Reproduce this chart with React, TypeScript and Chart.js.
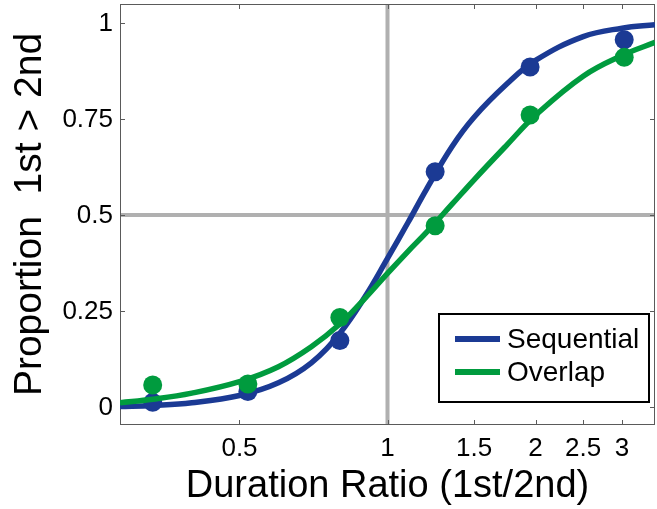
import React, { useEffect, useRef } from "react";
import { Chart, registerables } from "chart.js";

Chart.register(...registerables);

// Observed data points
const ratioPoints = [0.333, 0.52, 0.8, 1.25, 1.95, 3.03];
const sequentialPoints = [0.012, 0.04, 0.173, 0.613, 0.886, 0.957];
const overlapPoints = [0.057, 0.06, 0.233, 0.472, 0.761, 0.911];

// Fitted curves
const curveRatios = [0.2857, 0.333, 0.4, 0.5, 0.6, 0.7, 0.8, 0.9, 1, 1.1, 1.2, 1.35, 1.5, 1.75, 2, 2.5, 3, 3.5];
const sequentialCurve = [0.001, 0.004, 0.011, 0.03, 0.063, 0.115, 0.192, 0.287, 0.387, 0.48, 0.567, 0.677, 0.755, 0.842, 0.903, 0.965, 0.987, 0.996];
const overlapCurve = [0.011, 0.02, 0.036, 0.066, 0.105, 0.157, 0.216, 0.283, 0.348, 0.405, 0.455, 0.527, 0.592, 0.683, 0.76, 0.862, 0.916, 0.95];

const seriesNames = ["Sequential", "Overlap"];
const xTickValues = [0.5, 1, 1.5, 2, 2.5, 3];
const xTickLabels = ["0.5", "1", "1.5", "2", "2.5", "3"];
const yTickValues = [0, 0.25, 0.5, 0.75, 1];
const yTickLabels = ["0", "0.25", "0.5", "0.75", "1"];
const refX = 1;
const refY = 0.5;

const BLUE = "#1b3a94";
const GREEN = "#009b3e";
const FONT = "'Liberation Sans', Arial, Helvetica, sans-serif";

const framePlugin = {
  id: "frame",
  beforeDatasetsDraw(chart: any) {
    const { ctx, chartArea: a, scales } = chart;
    const xs = scales.x;
    const ys = scales.y;
    ctx.save();
    // reference lines
    ctx.strokeStyle = "#b0b0b0";
    ctx.lineWidth = 4;
    const px = xs.getPixelForValue(refX);
    const py = ys.getPixelForValue(refY);
    ctx.beginPath();
    ctx.moveTo(px, a.top);
    ctx.lineTo(px, a.bottom);
    ctx.moveTo(a.left, py);
    ctx.lineTo(a.right, py);
    ctx.stroke();
    // box
    ctx.strokeStyle = "#5a5a5a";
    ctx.lineWidth = 1;
    ctx.strokeRect(a.left + 0.5, a.top + 0.5, a.right - a.left - 1, a.bottom - a.top - 1);
    // inward ticks
    const tl = 5;
    ctx.beginPath();
    xTickValues.forEach((v) => {
      const x = Math.round(xs.getPixelForValue(v)) + 0.5;
      ctx.moveTo(x, a.bottom);
      ctx.lineTo(x, a.bottom - tl);
      ctx.moveTo(x, a.top);
      ctx.lineTo(x, a.top + tl);
    });
    yTickValues.forEach((v) => {
      const y = Math.round(ys.getPixelForValue(v)) + 0.5;
      ctx.moveTo(a.left, y);
      ctx.lineTo(a.left + tl, y);
      ctx.moveTo(a.right, y);
      ctx.lineTo(a.right - tl, y);
    });
    ctx.stroke();
    // tick labels
    ctx.fillStyle = "#000";
    ctx.font = `26px ${FONT}`;
    ctx.textBaseline = "middle";
    ctx.textAlign = "center";
    xTickValues.forEach((v, i) => {
      ctx.fillText(xTickLabels[i], xs.getPixelForValue(v), a.bottom + 24);
    });
    ctx.textAlign = "right";
    yTickValues.forEach((v, i) => {
      ctx.fillText(yTickLabels[i], a.left - 7, ys.getPixelForValue(v) + 1);
    });
    ctx.restore();
  },
  afterDraw(chart: any) {
    const { ctx } = chart;
    const colors = [BLUE, GREEN];
    const bx = 439, by = 314, bw = 210, bh = 88;
    ctx.save();
    ctx.fillStyle = "#ffffff";
    ctx.fillRect(bx, by, bw, bh);
    ctx.strokeStyle = "#000000";
    ctx.lineWidth = 2;
    ctx.strokeRect(bx, by, bw, bh);
    ctx.font = `28px ${FONT}`;
    ctx.textBaseline = "middle";
    ctx.textAlign = "left";
    seriesNames.forEach((name, i) => {
      const y = by + 25 + i * 33;
      ctx.strokeStyle = colors[i];
      ctx.lineWidth = 6;
      ctx.beginPath();
      ctx.moveTo(bx + 16, y);
      ctx.lineTo(bx + 61, y);
      ctx.stroke();
      ctx.fillStyle = "#000000";
      ctx.fillText(name, bx + 68, y + 1);
    });
    ctx.restore();
  },
};

export default function App() {
  const ref = useRef<HTMLCanvasElement | null>(null);

  useEffect(() => {
    if (!ref.current) return;
    const toXY = (xs: number[], ys: number[]) => xs.map((x, i) => ({ x, y: ys[i] }));
    const chart = new Chart(ref.current, {
      type: "scatter",
      data: {
        datasets: [
          {
            label: seriesNames[0] + " fit",
            data: toXY(curveRatios, sequentialCurve),
            showLine: true,
            borderColor: BLUE,
            borderWidth: 5.5,
            pointRadius: 0,
            tension: 0.4,
            order: 4,
          },
          {
            label: seriesNames[0],
            data: toXY(ratioPoints, sequentialPoints),
            backgroundColor: BLUE,
            borderWidth: 0,
            pointRadius: 9.5,
            order: 3,
          },
          {
            label: seriesNames[1] + " fit",
            data: toXY(curveRatios, overlapCurve),
            showLine: true,
            borderColor: GREEN,
            borderWidth: 5.5,
            pointRadius: 0,
            tension: 0.4,
            order: 2,
          },
          {
            label: seriesNames[1],
            data: toXY(ratioPoints, overlapPoints),
            backgroundColor: GREEN,
            borderWidth: 0,
            pointRadius: 9.5,
            order: 1,
          },
        ] as any,
      },
      options: {
        animation: false,
        responsive: false,
        events: [],
        layout: { autoPadding: false, padding: { top: 4, right: 2, left: 0, bottom: 0 } },
        plugins: { legend: { display: false }, tooltip: { enabled: false } },
        scales: {
          x: {
            type: "logarithmic",
            min: 1 / 3.5,
            max: 3.5,
            grid: { display: false, drawTicks: false },
            border: { display: false },
            afterBuildTicks: (s: any) => {
              s.ticks = xTickValues.map((v) => ({ value: v }));
            },
            afterFit: (s: any) => {
              s.height = 84;
            },
            ticks: { display: false },
            title: {
              display: true,
              text: "Duration Ratio (1st/2nd)",
              color: "#000",
              font: { family: FONT, size: 38 },
              padding: { top: 0, bottom: 0 },
            },
          },
          y: {
            type: "linear",
            min: -0.047,
            max: 1.05,
            grid: { display: false, drawTicks: false },
            border: { display: false },
            afterBuildTicks: (s: any) => {
              s.ticks = yTickValues.map((v) => ({ value: v }));
            },
            afterFit: (s: any) => {
              s.width = 120;
            },
            ticks: { display: false },
            title: {
              display: true,
              text: "Proportion  1st > 2nd",
              color: "#000",
              font: { family: FONT, size: 39 },
              padding: { top: 7, bottom: 0 },
            },
          },
        },
      } as any,
      plugins: [framePlugin],
    });
    return () => chart.destroy();
  }, []);

  return (
    <canvas
      ref={ref}
      width={657}
      height={509}
      style={{ position: "absolute", left: 0, top: 0, display: "block", background: "#fff" }}
    />
  );
}
